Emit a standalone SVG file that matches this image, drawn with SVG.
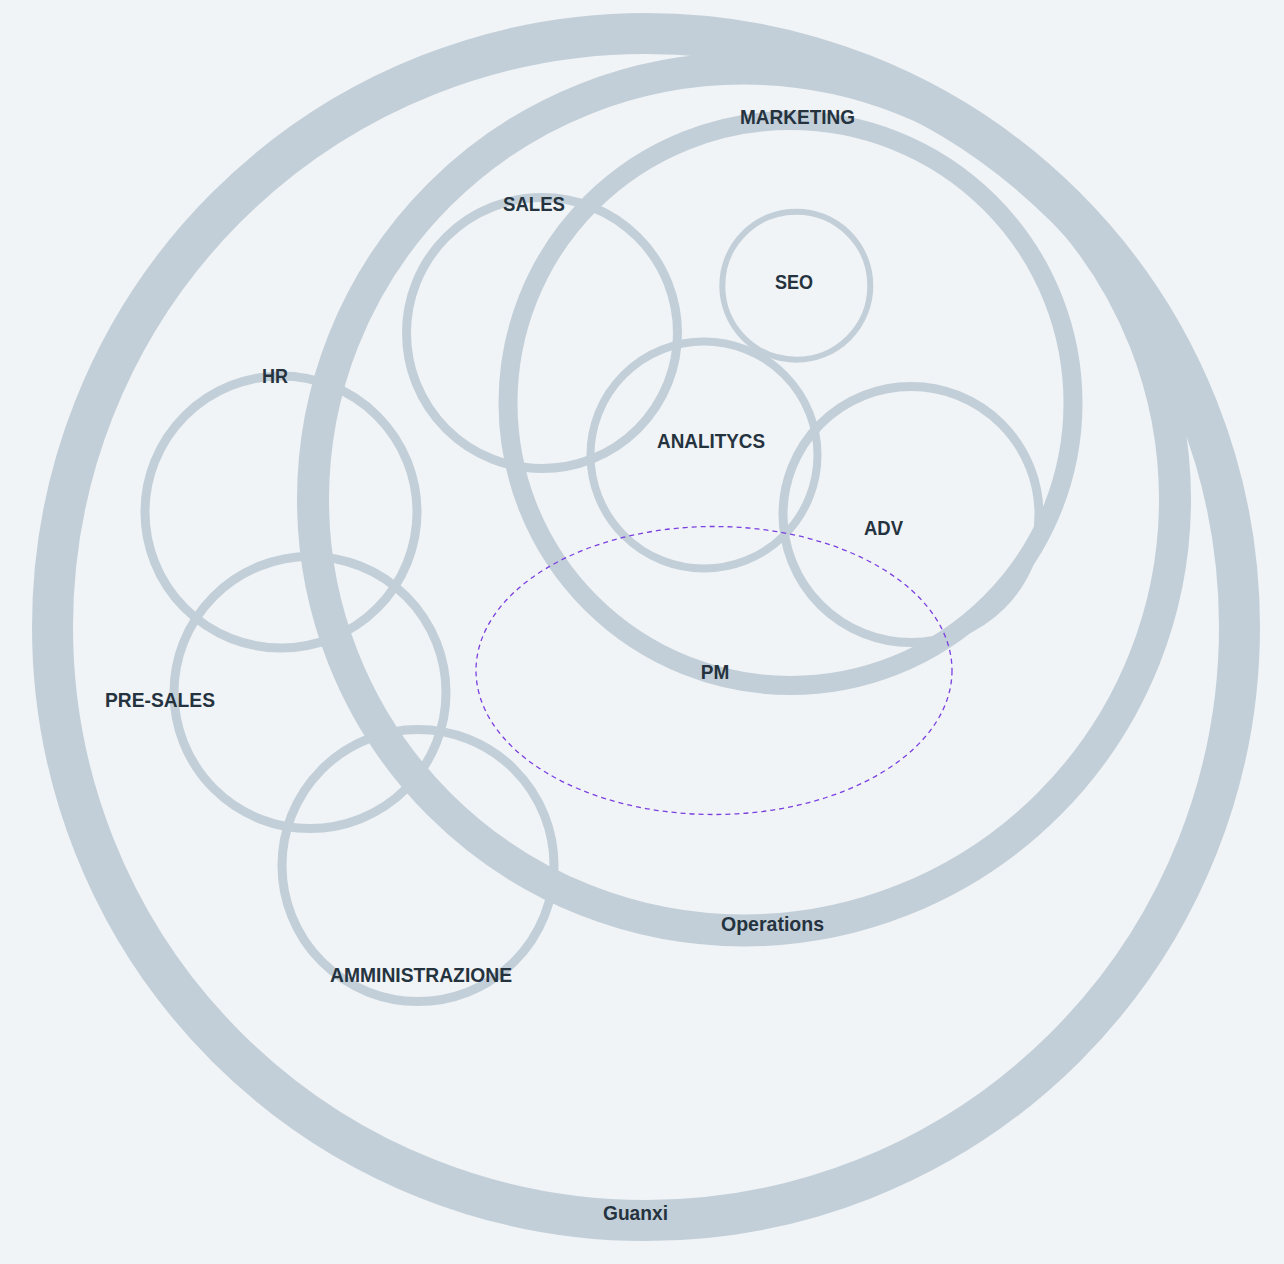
<svg xmlns="http://www.w3.org/2000/svg" width="1284" height="1264" viewBox="0 0 1284 1264">
  <style>
    .ring { fill: none; stroke: #c3cfd8; }
    .lbl { font-family: "Liberation Sans", Arial, sans-serif; font-weight: 700; font-size: 20.5px; fill: #25333f; text-anchor: middle; }
    .pm { fill: none; stroke: #7b3fe0; stroke-width: 1.3; stroke-dasharray: 5 4; }
  </style>
  <rect x="0" y="0" width="1284" height="1264" fill="#f0f4f7"/>
  <g id="guanxi">
    <circle class="ring" cx="646" cy="627" r="593.5" stroke-width="41"/>
  </g>
  <g id="operations">
    <circle class="ring" cx="744" cy="499.5" r="431" stroke-width="32"/>
  </g>
  <g id="marketing">
    <circle class="ring" cx="790.5" cy="403" r="282.5" stroke-width="19"/>
  </g>
  <g id="sales">
    <circle class="ring" cx="542" cy="333" r="135.5" stroke-width="9"/>
  </g>
  <g id="hr">
    <circle class="ring" cx="281" cy="512" r="136" stroke-width="9"/>
  </g>
  <g id="pre-sales">
    <circle class="ring" cx="310" cy="692.5" r="136" stroke-width="9"/>
  </g>
  <g id="amministrazione">
    <circle class="ring" cx="418" cy="865.5" r="136" stroke-width="9"/>
  </g>
  <g id="analitycs">
    <circle class="ring" cx="704" cy="455" r="113.5" stroke-width="8"/>
  </g>
  <g id="seo">
    <circle class="ring" cx="796.3" cy="285.7" r="74" stroke-width="6"/>
  </g>
  <g id="adv">
    <circle class="ring" cx="911" cy="514.5" r="128" stroke-width="9"/>
  </g>
  <g id="pm">
    <ellipse class="pm" cx="714" cy="670.5" rx="238" ry="144"/>
  </g>
  <g id="connectors"></g>
  <g id="labels">
    <text class="lbl" x="797.5" y="124" textLength="115" lengthAdjust="spacingAndGlyphs">MARKETING</text>
    <text class="lbl" x="534" y="211" textLength="62" lengthAdjust="spacingAndGlyphs">SALES</text>
    <text class="lbl" x="794" y="289" textLength="38" lengthAdjust="spacingAndGlyphs">SEO</text>
    <text class="lbl" x="275" y="383" textLength="26" lengthAdjust="spacingAndGlyphs">HR</text>
    <text class="lbl" x="711" y="448" textLength="108" lengthAdjust="spacingAndGlyphs">ANALITYCS</text>
    <text class="lbl" x="883.5" y="535" textLength="39" lengthAdjust="spacingAndGlyphs">ADV</text>
    <text class="lbl" x="160" y="707" textLength="110" lengthAdjust="spacingAndGlyphs">PRE-SALES</text>
    <text class="lbl" x="715" y="679" textLength="28.5" lengthAdjust="spacingAndGlyphs">PM</text>
    <text class="lbl" x="772.5" y="931" textLength="103" lengthAdjust="spacingAndGlyphs">Operations</text>
    <text class="lbl" x="421" y="982" textLength="182" lengthAdjust="spacingAndGlyphs">AMMINISTRAZIONE</text>
    <text class="lbl" x="635.5" y="1220" textLength="65" lengthAdjust="spacingAndGlyphs">Guanxi</text>
  </g>
</svg>
